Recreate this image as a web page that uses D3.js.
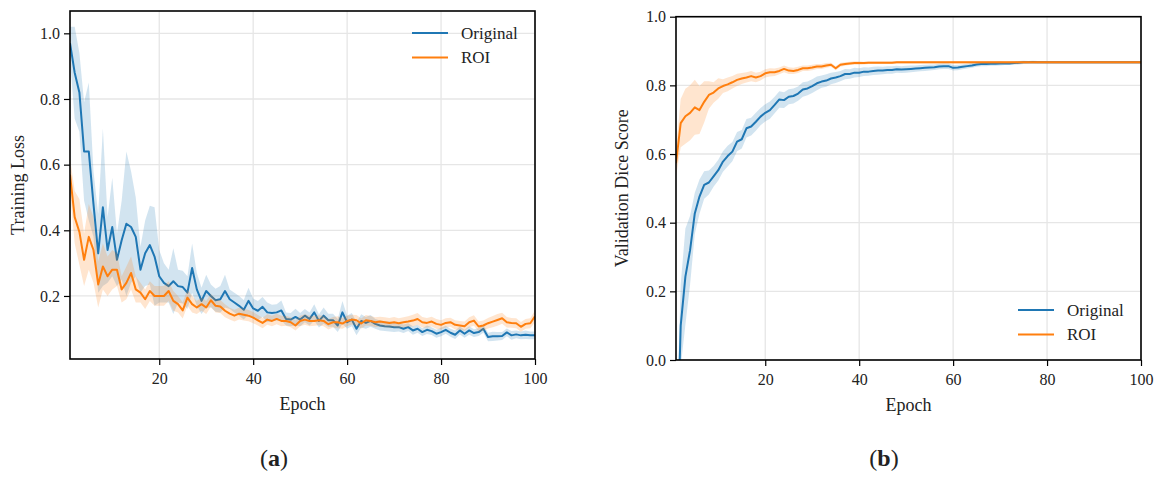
<!DOCTYPE html>
<meta charset="utf-8" />
<script src="https://d3js.org/d3.v7.min.js"></script>
<style>
  body { margin: 0; background: #fff; }
  svg text { font-family: "Liberation Serif", "Times New Roman", serif; fill: #222; }
</style>
<body>
<div id="chart"></div>
</body>
<script>
// epochs 1..100
const epochs = d3.range(1, 101);

// (a) training loss, mean and spread per epoch
const lossOriginal = [
  0.97, 0.88, 0.82, 0.64, 0.64, 0.48, 0.33, 0.47, 0.34, 0.41,
  0.31, 0.37, 0.42, 0.41, 0.38, 0.28, 0.33, 0.355, 0.32, 0.26,
  0.24, 0.23, 0.245, 0.23, 0.227, 0.21, 0.285, 0.22, 0.185, 0.215,
  0.2, 0.187, 0.19, 0.215, 0.19, 0.18, 0.17, 0.158, 0.185, 0.162,
  0.155, 0.167, 0.15, 0.148, 0.15, 0.156, 0.13, 0.128, 0.136, 0.128,
  0.14, 0.13, 0.15, 0.124, 0.14, 0.126, 0.126, 0.11, 0.15, 0.12,
  0.128, 0.10, 0.124, 0.118, 0.124, 0.115, 0.11, 0.108, 0.107, 0.105,
  0.105, 0.1, 0.105, 0.095, 0.1, 0.09, 0.097, 0.093, 0.085, 0.09,
  0.097, 0.088, 0.082, 0.095, 0.085, 0.095, 0.087, 0.09, 0.1, 0.075,
  0.077, 0.077, 0.078, 0.089, 0.08, 0.083, 0.08, 0.082, 0.08, 0.08
];
const lossOriginalStd = [
  0.05, 0.14, 0.12, 0.15, 0.21, 0.1, 0.12, 0.24, 0.1, 0.15,
  0.08, 0.12, 0.22, 0.17, 0.12, 0.07, 0.1, 0.12, 0.15, 0.08,
  0.06, 0.05, 0.1, 0.05, 0.05, 0.05, 0.075, 0.05, 0.04, 0.05,
  0.035, 0.035, 0.04, 0.05, 0.03, 0.03, 0.03, 0.03, 0.04, 0.03,
  0.03, 0.03, 0.03, 0.025, 0.025, 0.03, 0.02, 0.02, 0.025, 0.02,
  0.02, 0.02, 0.025, 0.02, 0.025, 0.02, 0.02, 0.02, 0.035, 0.02,
  0.02, 0.02, 0.02, 0.018, 0.018, 0.015, 0.015, 0.015, 0.015, 0.015,
  0.013, 0.013, 0.012, 0.013, 0.012, 0.012, 0.013, 0.012, 0.012, 0.013,
  0.012, 0.012, 0.013, 0.012, 0.012, 0.013, 0.012, 0.012, 0.012, 0.013,
  0.014, 0.013, 0.012, 0.012, 0.013, 0.012, 0.012, 0.013, 0.012, 0.012
];
const lossROI = [
  0.57, 0.44, 0.395, 0.31, 0.38, 0.34, 0.235, 0.29, 0.26, 0.28,
  0.28, 0.22, 0.24, 0.27, 0.22, 0.21, 0.19, 0.215, 0.2, 0.2,
  0.2, 0.215, 0.185, 0.175, 0.156, 0.195, 0.175, 0.165, 0.175, 0.165,
  0.187, 0.17, 0.168, 0.155, 0.146, 0.14, 0.146, 0.143, 0.14, 0.134,
  0.126, 0.118, 0.128, 0.124, 0.13, 0.124, 0.124, 0.12, 0.11, 0.124,
  0.128, 0.124, 0.124, 0.126, 0.124, 0.114, 0.12, 0.12, 0.116, 0.124,
  0.128, 0.126, 0.116, 0.126, 0.124, 0.12, 0.122, 0.12, 0.118, 0.12,
  0.117, 0.12, 0.122, 0.125, 0.13, 0.12, 0.118, 0.122, 0.115, 0.112,
  0.118, 0.12, 0.112, 0.11, 0.108, 0.12, 0.125, 0.107, 0.11, 0.117,
  0.122, 0.127, 0.132, 0.12, 0.118, 0.117, 0.106, 0.115, 0.117, 0.138
];
const lossROIStd = [
  0.05, 0.08, 0.1, 0.08, 0.1, 0.1, 0.07, 0.07, 0.06, 0.06,
  0.05, 0.04, 0.05, 0.05, 0.04, 0.03, 0.03, 0.03, 0.03, 0.03,
  0.03, 0.03, 0.03, 0.025, 0.025, 0.025, 0.025, 0.02, 0.02, 0.02,
  0.02, 0.02, 0.02, 0.02, 0.018, 0.018, 0.018, 0.018, 0.017, 0.017,
  0.016, 0.016, 0.016, 0.016, 0.016, 0.016, 0.015, 0.015, 0.015, 0.016,
  0.016, 0.016, 0.015, 0.015, 0.016, 0.016, 0.016, 0.018, 0.016, 0.016,
  0.015, 0.016, 0.015, 0.016, 0.015, 0.015, 0.015, 0.015, 0.015, 0.016,
  0.015, 0.015, 0.016, 0.018, 0.018, 0.016, 0.015, 0.015, 0.015, 0.014,
  0.014, 0.014, 0.014, 0.014, 0.014, 0.015, 0.016, 0.015, 0.015, 0.016,
  0.017, 0.018, 0.017, 0.016, 0.015, 0.015, 0.015, 0.015, 0.015, 0.018
];

// (b) validation dice score, mean and spread per epoch
const diceOriginal = [
  -0.4, 0.1, 0.243, 0.32, 0.427, 0.476, 0.51, 0.517, 0.535, 0.553,
  0.578, 0.594, 0.607, 0.636, 0.643, 0.675, 0.68, 0.694, 0.709, 0.72,
  0.728, 0.743, 0.759, 0.757, 0.767, 0.769, 0.776, 0.788, 0.791, 0.798,
  0.806, 0.811, 0.814, 0.82, 0.823, 0.827, 0.833, 0.833, 0.837, 0.837,
  0.84, 0.84, 0.842, 0.843, 0.843, 0.845, 0.845, 0.847, 0.846, 0.847,
  0.848, 0.849, 0.85, 0.851, 0.852, 0.853, 0.855, 0.856, 0.856, 0.851,
  0.852, 0.854, 0.856, 0.858, 0.861, 0.862, 0.862, 0.863, 0.863, 0.864,
  0.864, 0.864, 0.865, 0.866, 0.867, 0.867, 0.868, 0.867, 0.867, 0.867,
  0.867, 0.867, 0.867, 0.867, 0.867, 0.867, 0.867, 0.867, 0.867, 0.867,
  0.867, 0.867, 0.867, 0.867, 0.867, 0.867, 0.867, 0.867, 0.867, 0.867
];
const diceOriginalStd = [
  0.15, 0.12, 0.14, 0.1, 0.06, 0.05, 0.04, 0.035, 0.03, 0.03,
  0.03, 0.03, 0.028, 0.028, 0.027, 0.027, 0.026, 0.026, 0.025, 0.025,
  0.025, 0.024, 0.024, 0.023, 0.022, 0.022, 0.021, 0.021, 0.02, 0.02,
  0.02, 0.018, 0.018, 0.017, 0.016, 0.015, 0.015, 0.014, 0.014, 0.013,
  0.013, 0.012, 0.012, 0.012, 0.011, 0.011, 0.011, 0.01, 0.01, 0.01,
  0.01, 0.009, 0.009, 0.009, 0.009, 0.008, 0.008, 0.008, 0.008, 0.008,
  0.008, 0.007, 0.007, 0.007, 0.007, 0.006, 0.006, 0.006, 0.006, 0.006,
  0.005, 0.005, 0.005, 0.005, 0.005, 0.004, 0.004, 0.004, 0.004, 0.004,
  0.004, 0.004, 0.004, 0.004, 0.004, 0.004, 0.004, 0.004, 0.004, 0.004,
  0.004, 0.004, 0.004, 0.004, 0.004, 0.004, 0.004, 0.004, 0.004, 0.004
];
const diceROI = [
  0.573, 0.69, 0.71, 0.72, 0.736, 0.728, 0.752, 0.772, 0.779, 0.791,
  0.798, 0.803, 0.809, 0.816, 0.82, 0.823, 0.827, 0.823, 0.827, 0.835,
  0.838, 0.838, 0.842, 0.848, 0.843, 0.842, 0.845, 0.85, 0.85, 0.852,
  0.855, 0.855, 0.858, 0.86, 0.85, 0.86, 0.862, 0.864, 0.865, 0.865,
  0.865, 0.866, 0.866, 0.866, 0.866, 0.866, 0.866, 0.867, 0.867, 0.867,
  0.867, 0.867, 0.867, 0.867, 0.867, 0.867, 0.867, 0.867, 0.867, 0.867,
  0.867, 0.867, 0.867, 0.867, 0.867, 0.867, 0.867, 0.867, 0.867, 0.867,
  0.867, 0.867, 0.867, 0.867, 0.867, 0.867, 0.867, 0.867, 0.867, 0.867,
  0.867, 0.867, 0.867, 0.867, 0.867, 0.867, 0.867, 0.867, 0.867, 0.867,
  0.867, 0.867, 0.867, 0.867, 0.867, 0.867, 0.867, 0.867, 0.867, 0.867
];
const diceROIStd = [
  0.04, 0.07, 0.08, 0.08, 0.08, 0.07, 0.06, 0.04, 0.03, 0.03,
  0.02, 0.02, 0.018, 0.018, 0.016, 0.015, 0.015, 0.014, 0.013, 0.012,
  0.012, 0.011, 0.01, 0.01, 0.01, 0.009, 0.009, 0.008, 0.008, 0.008,
  0.007, 0.007, 0.007, 0.006, 0.006, 0.006, 0.005, 0.005, 0.005, 0.005,
  0.004, 0.004, 0.004, 0.004, 0.004, 0.004, 0.004, 0.004, 0.004, 0.004,
  0.004, 0.004, 0.004, 0.004, 0.004, 0.004, 0.004, 0.004, 0.004, 0.004,
  0.004, 0.004, 0.004, 0.004, 0.004, 0.004, 0.004, 0.004, 0.004, 0.004,
  0.004, 0.004, 0.004, 0.004, 0.004, 0.004, 0.004, 0.004, 0.004, 0.004,
  0.004, 0.004, 0.004, 0.004, 0.004, 0.004, 0.004, 0.004, 0.004, 0.004,
  0.004, 0.004, 0.004, 0.004, 0.004, 0.004, 0.004, 0.004, 0.004, 0.004
];

// tick labels
const xTicks = [20, 40, 60, 80, 100];
const lossTicks = [0.2, 0.4, 0.6, 0.8, 1.0];
const diceTicks = [0.0, 0.2, 0.4, 0.6, 0.8, 1.0];
const seriesNames = ["Original", "ROI"];
const colors = ["#1f77b4", "#ff7f0e"];

const serif = "'Liberation Serif', 'Times New Roman', serif";

const svg = d3.select("#chart").append("svg")
  .attr("width", 1163)
  .attr("height", 481);

// one panel = frame, grid, bands, lines, axes, legend
function drawPanel(p) {
  const x = d3.scaleLinear().domain([1, 100]).range([p.left, p.right]);
  const y = d3.scaleLinear().domain(p.yDomain).range([p.bottom, p.top]);
  const g = svg.append("g");

  g.append("clipPath").attr("id", p.id + "-clip")
    .append("rect")
    .attr("x", p.left).attr("y", p.top)
    .attr("width", p.right - p.left).attr("height", p.bottom - p.top);

  // grid
  g.append("g").selectAll("line").data(xTicks).join("line")
    .attr("x1", d => x(d)).attr("x2", d => x(d))
    .attr("y1", p.top).attr("y2", p.bottom)
    .attr("stroke", "#e6e6e6").attr("stroke-width", 1.3);
  g.append("g").selectAll("line").data(p.yTicks).join("line")
    .attr("x1", p.left).attr("x2", p.right)
    .attr("y1", d => y(d)).attr("y2", d => y(d))
    .attr("stroke", "#e6e6e6").attr("stroke-width", 1.3);

  const plot = g.append("g").attr("clip-path", "url(#" + p.id + "-clip)");

  p.series.forEach(function(s, i) {
    const rows = epochs.map((e, k) => ({e: e, m: s.mean[k], sd: s.std[k]}));
    const area = d3.area()
      .x(d => x(d.e))
      .y0(d => y(d.m - d.sd))
      .y1(d => y(d.m + d.sd));
    const line = d3.line().x(d => x(d.e)).y(d => y(d.m));
    plot.append("path").datum(rows)
      .attr("d", area)
      .attr("fill", colors[i]).attr("fill-opacity", 0.2);
    plot.append("path").datum(rows)
      .attr("d", line)
      .attr("fill", "none")
      .attr("stroke", colors[i]).attr("stroke-width", 2)
      .attr("stroke-linejoin", "round");
  });

  // axes
  const xAxis = g.append("g")
    .attr("transform", "translate(0," + p.bottom + ")")
    .call(d3.axisBottom(x).tickValues(xTicks).tickSize(6).tickPadding(8).tickSizeOuter(0));
  const yAxis = g.append("g")
    .attr("transform", "translate(" + p.left + ",0)")
    .call(d3.axisLeft(y).tickValues(p.yTicks).tickFormat(d3.format(".1f")).tickSize(6).tickPadding(4).tickSizeOuter(0));
  [xAxis, yAxis].forEach(function(a) {
    a.attr("font-family", serif).attr("font-size", 16);
    a.select(".domain").remove();
    a.selectAll(".tick line").attr("stroke", "#000").attr("stroke-width", 1.2);
    a.selectAll(".tick text").attr("fill", "#222");
  });

  // frame
  g.append("rect")
    .attr("x", p.left).attr("y", p.top)
    .attr("width", p.right - p.left).attr("height", p.bottom - p.top)
    .attr("fill", "none").attr("stroke", "#000").attr("stroke-width", 1.6);

  // axis titles
  g.append("text")
    .attr("x", (p.left + p.right) / 2).attr("y", p.bottom + 51)
    .attr("text-anchor", "middle").attr("font-size", 18)
    .text("Epoch");
  g.append("text")
    .attr("transform", "translate(" + p.yLabelX + "," + ((p.top + p.bottom) / 2) + ") rotate(-90)")
    .attr("text-anchor", "middle").attr("font-size", 18)
    .text(p.yLabel);

  // legend
  const lg = g.append("g");
  seriesNames.forEach(function(name, i) {
    const ly = p.legendY + i * 24.5;
    lg.append("line")
      .attr("x1", p.legendX).attr("x2", p.legendX + 36)
      .attr("y1", ly).attr("y2", ly)
      .attr("stroke", colors[i]).attr("stroke-width", 2);
    lg.append("text")
      .attr("x", p.legendX + 49).attr("y", ly)
      .attr("dy", "0.35em").attr("font-size", 17)
      .text(name);
  });

  // caption
  const cap = g.append("text")
    .attr("x", p.capX).attr("y", 466)
    .attr("text-anchor", "middle").attr("font-size", 24);
  cap.append("tspan").text("(");
  cap.append("tspan").attr("font-weight", "bold").text(p.caption);
  cap.append("tspan").text(")");
}

drawPanel({
  id: "loss", left: 70, right: 535, top: 11, bottom: 359,
  yDomain: [0.008, 1.068], yTicks: lossTicks,
  yLabel: "Training Loss", yLabelX: 24,
  series: [{mean: lossOriginal, std: lossOriginalStd}, {mean: lossROI, std: lossROIStd}],
  legendX: 412, legendY: 33, capX: 274, caption: "a"
});

drawPanel({
  id: "dice", left: 676, right: 1141, top: 16.7, bottom: 360,
  yDomain: [0, 1], yTicks: diceTicks,
  yLabel: "Validation Dice Score", yLabelX: 628,
  series: [{mean: diceOriginal, std: diceOriginalStd}, {mean: diceROI, std: diceROIStd}],
  legendX: 1018, legendY: 310, capX: 884, caption: "b"
});
</script>
